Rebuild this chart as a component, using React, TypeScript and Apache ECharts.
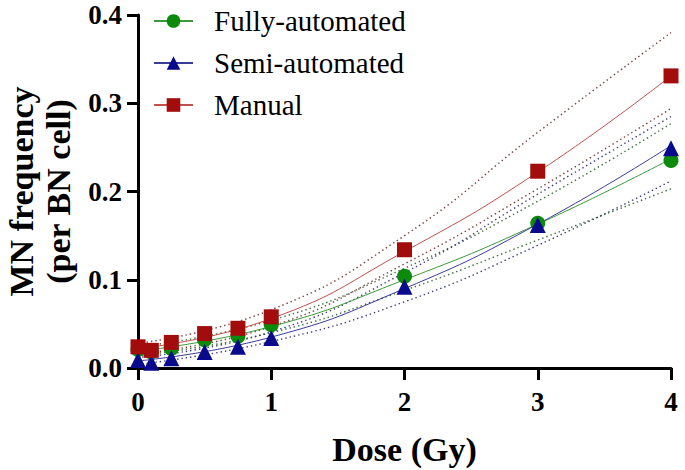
import React, { useEffect, useRef } from "react";
import * as echarts from "echarts";

const doses = [0, 0.1, 0.25, 0.5, 0.75, 1, 2, 3, 4];
const fullyValues = [0.021, 0.018, 0.022, 0.032, 0.036, 0.049, 0.104, 0.164, 0.235];
const semiValues = [0.009, 0.006, 0.011, 0.018, 0.024, 0.034, 0.092, 0.162, 0.249];
const manualValues = [0.024, 0.02, 0.029, 0.039, 0.045, 0.058, 0.134, 0.223, 0.331];

const fitDoses = [0, 1, 2, 3, 4];
const fullyFit = [0.019, 0.047, 0.1, 0.163, 0.237];
const fullyUpper = [0.024, 0.054, 0.113, 0.189, 0.277];
const fullyLower = [0.014, 0.04, 0.088, 0.145, 0.203];
const semiFit = [0.008, 0.035, 0.09, 0.163, 0.252];
const semiUpper = [0.012, 0.041, 0.108, 0.197, 0.285];
const semiLower = [0.004, 0.03, 0.075, 0.139, 0.212];
const manualFit = [0.022, 0.056, 0.132, 0.222, 0.331];
const manualUpper = [0.028, 0.066, 0.15, 0.267, 0.38];
const manualLower = [0.016, 0.047, 0.118, 0.203, 0.294];

const seriesNames = ["Fully-automated", "Semi-automated", "Manual"];
const yTicks = [0, 0.1, 0.2, 0.3, 0.4];
const xTicks = [0, 1, 2, 3, 4];

const FONT = "'Liberation Serif', 'Times New Roman', serif";

const groups = [
  { name: seriesNames[0], symbol: "circle", marker: "#0b8a0b", line: "#3c9a3c", dot: "#3d6b3d", pts: fullyValues, fit: fullyFit, up: fullyUpper, lo: fullyLower },
  { name: seriesNames[1], symbol: "triangle", marker: "#0a0a8c", line: "#3b3b9c", dot: "#3d3d7a", pts: semiValues, fit: semiFit, up: semiUpper, lo: semiLower },
  { name: seriesNames[2], symbol: "rect", marker: "#a30c0c", line: "#c0504d", dot: "#7a3d3d", pts: manualValues, fit: manualFit, up: manualUpper, lo: manualLower },
];

const pair = (xs: number[], ys: number[]) => xs.map((x, i) => [x, ys[i]]);

export default function App() {
  const ref = useRef<HTMLDivElement>(null);
  useEffect(() => {
    if (!ref.current) return;
    const chart = echarts.init(ref.current, null, { renderer: "svg" });
    const series: any[] = [];
    groups.forEach((g) => {
      series.push({
        name: g.name,
        type: "line",
        data: pair(fitDoses, g.fit),
        smooth: true,
        symbol: g.symbol,
        showSymbol: false,
        lineStyle: { color: g.line, width: 1 },
        itemStyle: { color: g.marker },
        z: 3,
      });
    });
    groups.forEach((g) => {
      [g.up, g.lo].forEach((arr) => {
        series.push({
          type: "line",
          data: pair(fitDoses, arr),
          smooth: true,
          showSymbol: false,
          symbol: "none",
          lineStyle: { color: g.dot, width: 1.4, type: [1.4, 3] },
          z: 2,
        });
      });
    });
    groups.forEach((g) => {
      series.push({
        name: g.name,
        type: "scatter",
        data: pair(doses, g.pts),
        symbol: g.symbol,
        symbolSize: g.symbol === "triangle" ? 16 : 15,
        itemStyle: { color: g.marker, opacity: 1 },
        z: 4,
      });
    });
    chart.setOption({
      animation: false,
      backgroundColor: "#ffffff",
      textStyle: { fontFamily: FONT },
      grid: { left: 138, right: 14, top: 15, bottom: 102, containLabel: false, outerBoundsMode: "none" },
      legend: {
        data: seriesNames,
        orient: "vertical",
        left: 153,
        top: 6,
        padding: 0,
        itemWidth: 39,
        itemHeight: 17,
        itemGap: 12,
        textStyle: { fontFamily: FONT, fontSize: 29, lineHeight: 30, color: "#000", padding: [0, 0, 0, 16] },
        inactiveColor: "#ccc",
      },
      xAxis: {
        type: "value",
        min: 0,
        max: 4,
        interval: 1,
        name: "Dose (Gy)",
        nameLocation: "middle",
        nameGap: 64,
        nameTextStyle: { fontFamily: FONT, fontSize: 34, fontWeight: "bold", color: "#000" },
        axisLine: { show: true, lineStyle: { color: "#000", width: 3 } },
        axisTick: { show: true, length: 12, lineStyle: { color: "#000", width: 3 } },
        axisLabel: {
          fontFamily: FONT,
          fontSize: 27,
          fontWeight: "bold",
          color: "#000",
          margin: 20,
          formatter: (v: number) => (xTicks.includes(v) ? String(v) : ""),
        },
        splitLine: { show: false },
      },
      yAxis: {
        type: "value",
        min: 0,
        max: 0.4,
        interval: 0.1,
        name: "MN frequency\n(per BN cell)",
        nameLocation: "middle",
        nameRotate: 90,
        nameGap: 58,
        nameTextStyle: { fontFamily: FONT, fontSize: 34, fontWeight: "bold", color: "#000", lineHeight: 37 },
        axisLine: { show: true, lineStyle: { color: "#000", width: 3 } },
        axisTick: { show: true, length: 11, lineStyle: { color: "#000", width: 3 } },
        axisLabel: {
          fontFamily: FONT,
          fontSize: 27,
          fontWeight: "bold",
          color: "#000",
          margin: 16,
          formatter: (v: number) => (yTicks.some((t) => Math.abs(t - v) < 1e-9) ? v.toFixed(1) : ""),
        },
        splitLine: { show: false },
      },
      series,
    });
    return () => chart.dispose();
  }, []);
  return <div ref={ref} style={{ width: 685, height: 470, position: "absolute", left: 0, top: 0 }} />;
}
